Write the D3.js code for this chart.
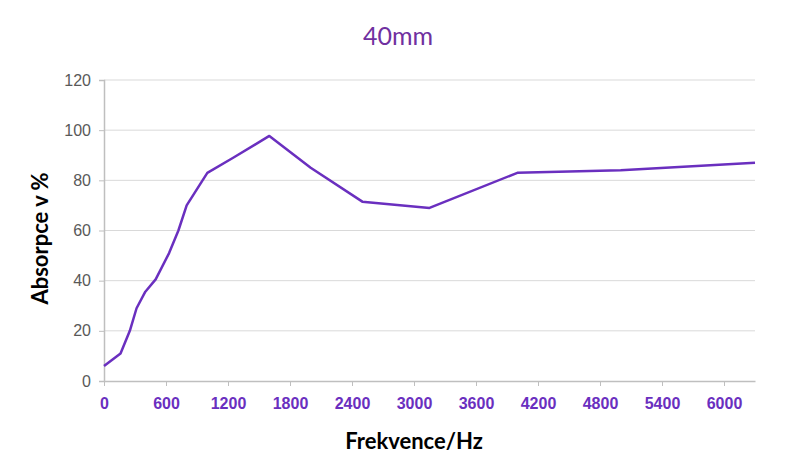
<!DOCTYPE html>
<html>
<head>
<meta charset="utf-8">
<script src="https://d3js.org/d3.v7.min.js"></script>
<style>
  body { margin: 0; background: #fff; }
  svg { font-family: Lato, "Open Sans", sans-serif; }
</style>
</head>
<body>
<div id="chart"></div>
<script>
  // values
  const freqs = [0, 160, 250, 315, 400, 500, 630, 720, 800, 1000, 1250, 1600, 2000, 2500, 3150, 4000, 5000, 6300];
  const absorption = [6, 11, 20, 29, 35.6, 40.5, 51, 60, 70, 83, 89, 97.7, 85, 71.5, 69, 83, 84, 87];
  const xTicks = [0, 600, 1200, 1800, 2400, 3000, 3600, 4200, 4800, 5400, 6000];
  const yTicks = [0, 20, 40, 60, 80, 100, 120];

  const width = 800, height = 476;
  const margin = {top: 80, right: 45, bottom: 95, left: 104};

  const svg = d3.select("#chart").append("svg")
    .attr("width", width).attr("height", height);

  const x = d3.scaleLinear().domain([0, 6300]).range([margin.left, width - margin.right]);
  const y = d3.scaleLinear().domain([0, 120]).range([height - margin.bottom, margin.top]);

  // gridlines
  svg.append("g").selectAll("line").data(yTicks.slice(1)).enter().append("line")
    .attr("x1", margin.left).attr("x2", width - margin.right)
    .attr("y1", d => y(d)).attr("y2", d => y(d))
    .attr("stroke", "#d9d9d9").attr("stroke-width", 1);

  // y axis
  const yAxis = svg.append("g").attr("transform", `translate(${margin.left},0)`)
    .call(d3.axisLeft(y).tickValues(yTicks).tickSize(5).tickPadding(8));
  yAxis.select(".domain").attr("stroke", "#bfbfbf").attr("stroke-width", 1.5);
  yAxis.selectAll(".tick line").attr("stroke", "#bfbfbf");
  yAxis.selectAll("text").attr("fill", "#595959").style("font-size", "16px");

  // x axis
  const xAxis = svg.append("g").attr("transform", `translate(0,${y(0)})`)
    .call(d3.axisBottom(x).tickValues(xTicks).tickFormat(d3.format("d")).tickSize(5).tickPadding(12).tickSizeOuter(0));
  xAxis.select(".domain").attr("stroke", "#bfbfbf").attr("stroke-width", 1.5);
  xAxis.selectAll(".tick line").attr("stroke", "#bfbfbf");
  xAxis.selectAll("text").attr("fill", "#6a2fbf").style("font-size", "16px").style("font-weight", "bold");

  // line
  const data = freqs.map((f, i) => ({f, v: absorption[i]}));
  svg.append("path").datum(data)
    .attr("fill", "none").attr("stroke", "#6a2fbf").attr("stroke-width", 2.5)
    .attr("stroke-linejoin", "round")
    .attr("d", d3.line().x(d => x(d.f)).y(d => y(d.v)));

  // title and axis titles
  svg.append("text").attr("x", 398).attr("y", 45).attr("text-anchor", "middle")
    .attr("fill", "#7030a0").style("font-size", "25px").text("40mm");
  svg.append("text").attr("x", 414).attr("y", 449).attr("text-anchor", "middle")
    .attr("fill", "#000").style("font-size", "22px").style("font-weight", "bold").text("Frekvence/Hz");
  svg.append("text").attr("transform", `translate(48,${(y(0) + y(120)) / 2 + 8}) rotate(-90)`)
    .attr("text-anchor", "middle")
    .attr("fill", "#000").style("font-size", "22px").style("font-weight", "bold").text("Absorpce v %");
</script>
</body>
</html>
